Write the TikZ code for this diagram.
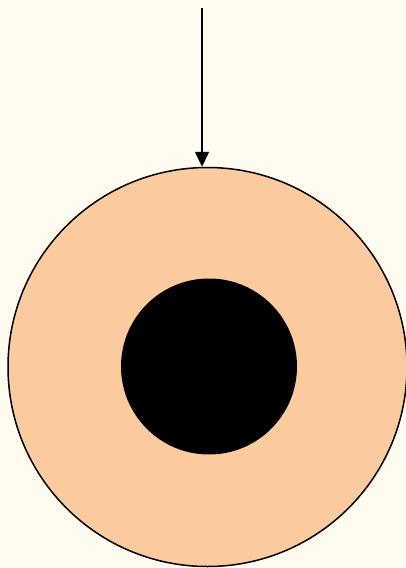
\documentclass[tikz,border=0pt]{standalone}
\usepackage{tikz}
\usetikzlibrary{positioning,arrows.meta}
\definecolor{paper}{HTML}{FFFBEE}
\definecolor{peach}{HTML}{FCCA9F}

\begin{document}
\begin{tikzpicture}[x=1pt,y=-1pt,>={Triangle[length=15pt,width=14pt]}]
    \fill[paper] (0,0) rectangle (406,568);
    \useasboundingbox (0,0) rectangle (406,568);
    \node[draw, circle, line width=1.5pt, fill=peach, minimum size=399pt, inner sep=0pt] (outer) at (207.5,367) {};
    \node[circle, fill=black, minimum size=176pt, inner sep=0pt] (inner) at (209,366.5) {};
    \coordinate (src) at (202,8);
    \draw[->, line width=1.5pt] (src) -- (src |- outer.north);
  \end{tikzpicture}
\end{document}
